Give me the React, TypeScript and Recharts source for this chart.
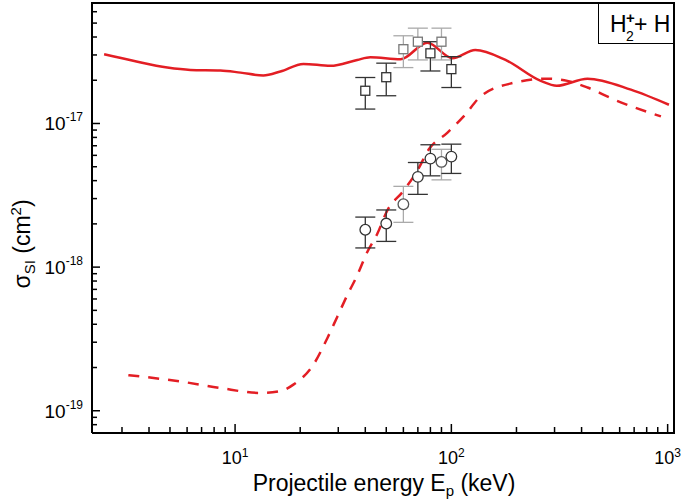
import React from 'react';
import { ComposedChart, ErrorBar, Line, Scatter, XAxis, YAxis } from 'recharts';

const FONT = '"Liberation Sans", Arial, sans-serif';
const RED = '#e31e24';

const X_MIN = 2.18;
const X_MAX = 1070;
const Y_MIN = 7e-20;
const Y_MAX = 6.9e-17;

// theory, solid curve
const solidEnergy = [2.48, 3.38, 4.86, 6.21, 8.55, 10.6, 13.5, 16.2, 20.7, 27.6, 36.7, 42.2, 58.2, 77.4, 101, 129, 178, 259, 307, 426, 676, 1014];
const solidSigma = [3.03e-17, 2.73e-17, 2.45e-17, 2.36e-17, 2.34e-17, 2.26e-17, 2.16e-17, 2.3e-17, 2.6e-17, 2.52e-17, 2.77e-17, 2.89e-17, 2.8e-17, 3.65e-17, 2.85e-17, 3.25e-17, 2.77e-17, 1.98e-17, 1.83e-17, 2.05e-17, 1.72e-17, 1.35e-17];

// theory, dashed curve
const dashEnergy = [3.21, 5.57, 8.54, 13.1, 16.2, 18.6, 23.0, 26.7, 29.7, 33.0, 36.7, 40.8, 45.4, 50.5, 60.1, 69.5, 78.7, 95.7, 114, 137, 194, 278, 344, 426, 564, 931];
const dashSigma = [1.77e-19, 1.6e-19, 1.44e-19, 1.33e-19, 1.37e-19, 1.52e-19, 2.09e-19, 3.2e-19, 4.52e-19, 6.37e-19, 8.76e-19, 1.27e-18, 1.7e-18, 2.47e-18, 3.4e-18, 4.67e-18, 6.61e-18, 8.61e-18, 1.12e-17, 1.55e-17, 1.92e-17, 2.05e-17, 1.98e-17, 1.78e-17, 1.47e-17, 1.12e-17];

// experiment, squares
const sqEnergy = [40, 50, 60, 70, 80, 90, 100];
const sqSigma = [1.69e-17, 2.1e-17, 3.29e-17, 3.71e-17, 3.08e-17, 3.71e-17, 2.39e-17];
const sqLow = [1.26e-17, 1.56e-17, 2.45e-17, 2.77e-17, 2.32e-17, 2.77e-17, 1.78e-17];
const sqHigh = [2.09e-17, 2.63e-17, 4.08e-17, 4.61e-17, 3.71e-17, 4.61e-17, 2.92e-17];
const sqFaint = [false, false, true, true, false, true, false];

// experiment, circles
const ciEnergy = [40, 50, 60, 70, 80, 90, 100];
const ciSigma = [1.82e-18, 2.01e-18, 2.74e-18, 4.25e-18, 5.69e-18, 5.4e-18, 5.88e-18];
const ciLow = [1.36e-18, 1.51e-18, 2.05e-18, 3.21e-18, 4.32e-18, 4.05e-18, 4.49e-18];
const ciHigh = [2.23e-18, 2.5e-18, 3.65e-18, 5.35e-18, 7.11e-18, 6.61e-18, 7.18e-18];
const ciFaint = [false, false, true, false, false, true, false];

const xTicks = [3, 4, 5, 6, 7, 8, 9, 10, 20, 30, 40, 50, 60, 70, 80, 90, 100, 200, 300, 400, 500, 600, 700, 800, 900, 1000];
const yTicks = [
  8e-20, 9e-20, 1e-19, 2e-19, 3e-19, 4e-19, 5e-19, 6e-19, 7e-19, 8e-19, 9e-19,
  1e-18, 2e-18, 3e-18, 4e-18, 5e-18, 6e-18, 7e-18, 8e-18, 9e-18,
  1e-17, 2e-17, 3e-17, 4e-17, 5e-17, 6e-17,
];

const curve = (es: number[], ss: number[]) => es.map((e, i) => ({ e, s: ss[i] }));
const points = (es: number[], ss: number[], lo: number[], hi: number[], faint: boolean[], want: boolean) =>
  es
    .map((e, i) => ({ e, s: ss[i], err: [ss[i] - lo[i], hi[i] - ss[i]], faint: faint[i] }))
    .filter((p) => p.faint === want);

const solidData = curve(solidEnergy, solidSigma);
const dashData = curve(dashEnergy, dashSigma);
const sqDark = points(sqEnergy, sqSigma, sqLow, sqHigh, sqFaint, false);
const sqLight = points(sqEnergy, sqSigma, sqLow, sqHigh, sqFaint, true);
const ciDark = points(ciEnergy, ciSigma, ciLow, ciHigh, ciFaint, false);
const ciLight = points(ciEnergy, ciSigma, ciLow, ciHigh, ciFaint, true);

const decade = (v: number) => {
  const p = Math.log10(v);
  return Math.abs(p - Math.round(p)) < 1e-6 ? Math.round(p) : null;
};

function XTick({ x, y, payload }: any) {
  const exp = decade(payload.value);
  return (
    <g>
      <line x1={x} x2={x} y1={y} y2={y - (exp !== null ? 9 : 6)} stroke="#000" strokeWidth={1.5} />
      {exp !== null && (
        <text x={x} y={y + 31} textAnchor="middle" fontSize={18} fontFamily={FONT} fill="#000">
          10<tspan dy={-7} fontSize={12}>{exp}</tspan>
        </text>
      )}
    </g>
  );
}

function YTick({ x, y, payload }: any) {
  const exp = decade(payload.value);
  return (
    <g>
      <line x1={x} x2={x + (exp !== null ? 8 : 5)} y1={y} y2={y} stroke="#000" strokeWidth={1.5} />
      {exp !== null && (
        <text x={x - 9} y={y + 7} textAnchor="end" fontSize={19} fontFamily={FONT} fill="#000">
          10<tspan dy={-9} fontSize={12}>{exp}</tspan>
        </text>
      )}
    </g>
  );
}

function XTitle() {
  return (
    <text x={384} y={491} textAnchor="middle" fontSize={23} fontFamily={FONT} fill="#000">
      Projectile energy E<tspan dy={5} fontSize={15}>p</tspan>
      <tspan dy={-5}> (keV)</tspan>
    </text>
  );
}

function YTitle() {
  return (
    <text transform="rotate(-90)" x={-244} y={30} textAnchor="middle" fontSize={23} fontFamily={FONT} fill="#000">
      σ<tspan dy={5} fontSize={15}>SI</tspan>
      <tspan dy={-5}> (cm</tspan>
      <tspan dy={-9} fontSize={15}>2</tspan>
      <tspan dy={9}>)</tspan>
    </text>
  );
}

const Square = (stroke: string) => (p: any) => (
  <rect x={p.cx - 4.5} y={p.cy - 4.5} width={9} height={9} fill="#fff" stroke={stroke} strokeWidth={1.3} />
);
const Circle = (stroke: string) => (p: any) => (
  <circle cx={p.cx} cy={p.cy} r={5.3} fill="#fff" stroke={stroke} strokeWidth={1.3} />
);

const axisStroke = { stroke: '#000', strokeWidth: 2 };

export default function App() {
  return (
    <div style={{ position: 'absolute', left: 0, top: 0, width: 685, height: 502, background: '#fff' }}>
      <ComposedChart width={685} height={502} margin={{ top: 3, right: 11, bottom: 0, left: 0 }}>
        <XAxis
          type="number"
          dataKey="e"
          scale="log"
          domain={[X_MIN, X_MAX]}
          allowDataOverflow
          ticks={xTicks}
          interval={0}
          tick={<XTick />}
          tickLine={false}
          tickSize={0}
          tickMargin={0}
          height={69}
          axisLine={axisStroke}
          label={<XTitle />}
        />
        <YAxis
          type="number"
          dataKey="s"
          scale="log"
          domain={[Y_MIN, Y_MAX]}
          allowDataOverflow
          ticks={yTicks}
          interval={0}
          tick={<YTick />}
          tickLine={false}
          tickSize={0}
          tickMargin={0}
          width={92}
          axisLine={axisStroke}
          label={<YTitle />}
        />
        <Line data={solidData} dataKey="s" type="monotone" stroke={RED} strokeWidth={2.5} dot={false} isAnimationActive={false} />
        <Line
          data={dashData}
          dataKey="s"
          type="monotone"
          stroke={RED}
          strokeWidth={2.5}
          strokeDasharray="11 9"
          dot={false}
          isAnimationActive={false}
        />
        <Scatter data={sqLight} dataKey="s" shape={Square('#777')} isAnimationActive={false}>
          <ErrorBar dataKey="err" direction="y" width={10} stroke="#aaa" strokeWidth={1.3} />
        </Scatter>
        <Scatter data={sqDark} dataKey="s" shape={Square('#333')} isAnimationActive={false}>
          <ErrorBar dataKey="err" direction="y" width={10} stroke="#333" strokeWidth={1.3} />
        </Scatter>
        <Scatter data={ciLight} dataKey="s" shape={Circle('#555')} isAnimationActive={false}>
          <ErrorBar dataKey="err" direction="y" width={10} stroke="#aaa" strokeWidth={1.3} />
        </Scatter>
        <Scatter data={ciDark} dataKey="s" shape={Circle('#333')} isAnimationActive={false}>
          <ErrorBar dataKey="err" direction="y" width={10} stroke="#333" strokeWidth={1.3} />
        </Scatter>
      </ComposedChart>
      {/* top and right sides of the plot frame */}
      <div
        style={{
          position: 'absolute',
          left: 91,
          top: 2,
          width: 584,
          height: 432,
          borderTop: '2px solid #000',
          borderRight: '2px solid #000',
          boxSizing: 'border-box',
          pointerEvents: 'none',
        }}
      />
      <div
        style={{
          position: 'absolute',
          left: 598,
          top: 3,
          width: 76,
          height: 41,
          borderLeft: '1.5px solid #000',
          borderBottom: '1.5px solid #000',
          boxSizing: 'border-box',
        }}
      >
        <svg width={76} height={40} style={{ display: 'block' }}>
          <g fontFamily={FONT} fill="#000">
            <text x={11} y={29} fontSize={23}>H</text>
            <text x={27} y={38} fontSize={14}>2</text>
            <text x={27} y={20} fontSize={15} fontWeight="bold">+</text>
            <text x={35} y={29} fontSize={23}>+ H</text>
          </g>
        </svg>
      </div>
    </div>
  );
}
